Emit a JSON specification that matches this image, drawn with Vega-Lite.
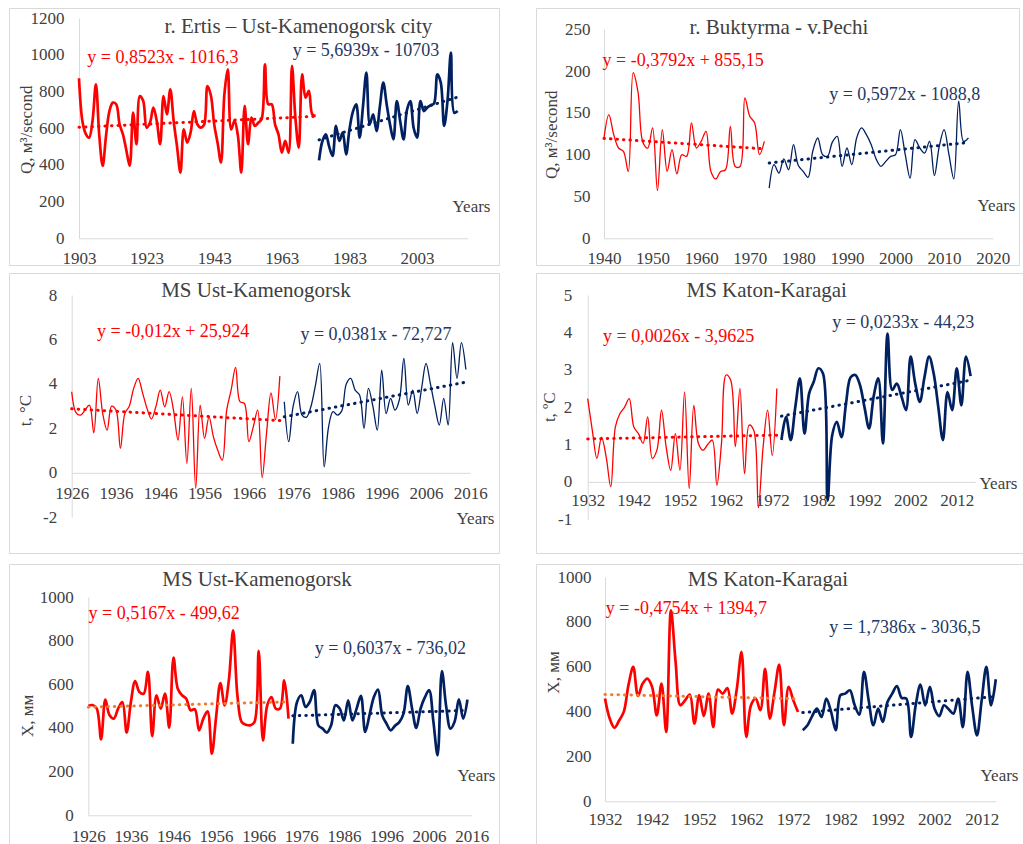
{
  "$schema": "https://vega.github.io/schema/vega-lite/v6.json",
  "padding": {"left": 8, "top": 7, "right": 0, "bottom": 0},
  "background": "white",
  "spacing": 5,
  "config": {
    "view": {"stroke": "#d9d9d9", "strokeWidth": 1},
    "axis": {"grid": false, "ticks": false, "tickSize": 0, "domainColor": "#d9d9d9", "domainWidth": 1,
      "labelFont": "Liberation Serif", "labelFontSize": 17, "labelColor": "#404040", "labelOverlap": false, "labelFlush": false, "labelBound": false,
      "titleFont": "Liberation Serif", "titleFontSize": 17, "titleFontWeight": "normal", "titleColor": "#404040", "titleBaseline": "middle", "titleAlign": "center"},
    "axisX": {"titleAngle": 0},
    "axisY": {"titleAngle": -90},
    "text": {"font": "Liberation Serif"}
  },
  "datasets": {
    "ertis": [
      {"year":1903,"v":873,"period":"early"},{"year":1904,"v":640,"period":"early"},{"year":1905,"v":570,"period":"early"},{"year":1906,"v":549,"period":"early"},{"year":1907,"v":640,"period":"early"},{"year":1908,"v":840,"period":"early"},{"year":1909,"v":560,"period":"early"},{"year":1910,"v":395,"period":"early"},{"year":1911,"v":560,"period":"early"},{"year":1912,"v":694,"period":"early"},{"year":1913,"v":740,"period":"early"},{"year":1914,"v":731,"period":"early"},{"year":1915,"v":622,"period":"early"},{"year":1916,"v":567,"period":"early"},{"year":1917,"v":480,"period":"early"},{"year":1918,"v":395,"period":"early"},{"year":1919,"v":685,"period":"early"},{"year":1920,"v":513,"period":"early"},{"year":1921,"v":776,"period":"early"},{"year":1922,"v":749,"period":"early"},{"year":1923,"v":604,"period":"early"},{"year":1924,"v":631,"period":"early"},{"year":1925,"v":713,"period":"early"},{"year":1926,"v":640,"period":"early"},{"year":1927,"v":513,"period":"early"},{"year":1928,"v":776,"period":"early"},{"year":1929,"v":676,"period":"early"},{"year":1930,"v":813,"period":"early"},{"year":1931,"v":640,"period":"early"},{"year":1932,"v":500,"period":"early"},{"year":1933,"v":358,"period":"early"},{"year":1934,"v":594,"period":"early"},{"year":1935,"v":522,"period":"early"},{"year":1936,"v":576,"period":"early"},{"year":1937,"v":694,"period":"early"},{"year":1938,"v":622,"period":"early"},{"year":1939,"v":604,"period":"early"},{"year":1940,"v":620,"period":"early"},{"year":1941,"v":830,"period":"early"},{"year":1942,"v":780,"period":"early"},{"year":1943,"v":620,"period":"early"},{"year":1944,"v":520,"period":"early"},{"year":1945,"v":413,"period":"early"},{"year":1946,"v":785,"period":"early"},{"year":1947,"v":922,"period":"early"},{"year":1948,"v":594,"period":"early"},{"year":1949,"v":640,"period":"early"},{"year":1950,"v":560,"period":"early"},{"year":1951,"v":358,"period":"early"},{"year":1952,"v":722,"period":"early"},{"year":1953,"v":513,"period":"early"},{"year":1954,"v":658,"period":"early"},{"year":1955,"v":613,"period":"early"},{"year":1956,"v":630,"period":"early"},{"year":1957,"v":649,"period":"early"},{"year":1958,"v":949,"period":"early"},{"year":1959,"v":731,"period":"early"},{"year":1960,"v":731,"period":"early"},{"year":1961,"v":620,"period":"early"},{"year":1962,"v":567,"period":"early"},{"year":1963,"v":467,"period":"early"},{"year":1964,"v":531,"period":"early"},{"year":1965,"v":467,"period":"early"},{"year":1966,"v":940,"period":"early"},{"year":1967,"v":658,"period":"early"},{"year":1968,"v":494,"period":"early"},{"year":1969,"v":894,"period":"early"},{"year":1970,"v":767,"period":"early"},{"year":1971,"v":804,"period":"early"},{"year":1972,"v":676,"period":"early"},{"year":1973,"v":667,"period":"early"},
      {"year":1974,"v":425,"period":"late"},{"year":1975,"v":531,"period":"late"},{"year":1976,"v":567,"period":"late"},{"year":1977,"v":500,"period":"late"},{"year":1978,"v":449,"period":"late"},{"year":1979,"v":613,"period":"late"},{"year":1980,"v":531,"period":"late"},{"year":1981,"v":576,"period":"late"},{"year":1982,"v":458,"period":"late"},{"year":1983,"v":594,"period":"late"},{"year":1984,"v":690,"period":"late"},{"year":1985,"v":731,"period":"late"},{"year":1986,"v":549,"period":"late"},{"year":1987,"v":720,"period":"late"},{"year":1988,"v":904,"period":"late"},{"year":1989,"v":622,"period":"late"},{"year":1990,"v":676,"period":"late"},{"year":1991,"v":585,"period":"late"},{"year":1992,"v":720,"period":"late"},{"year":1993,"v":849,"period":"late"},{"year":1994,"v":731,"period":"late"},{"year":1995,"v":620,"period":"late"},{"year":1996,"v":540,"period":"late"},{"year":1997,"v":749,"period":"late"},{"year":1998,"v":640,"period":"late"},{"year":1999,"v":540,"period":"late"},{"year":2000,"v":700,"period":"late"},{"year":2001,"v":749,"period":"late"},{"year":2002,"v":600,"period":"late"},{"year":2003,"v":549,"period":"late"},{"year":2004,"v":749,"period":"late"},{"year":2005,"v":694,"period":"late"},{"year":2006,"v":713,"period":"late"},{"year":2007,"v":725,"period":"late"},{"year":2008,"v":735,"period":"late"},{"year":2009,"v":894,"period":"late"},{"year":2010,"v":850,"period":"late"},{"year":2011,"v":613,"period":"late"},{"year":2012,"v":750,"period":"late"},{"year":2013,"v":1013,"period":"late"},{"year":2014,"v":685,"period":"late"},{"year":2015,"v":694,"period":"late"}
    ],
    "ertis_trend": [{"year":1903,"v":605.6,"period":"early"},{"year":1973,"v":665.3,"period":"early"},{"year":1974,"v":536.8,"period":"late"},{"year":2015,"v":770.2,"period":"late"}],
    "buktyrma": [
      {"year":1940,"v":120,"period":"early"},{"year":1941,"v":148,"period":"early"},{"year":1942,"v":124,"period":"early"},{"year":1943,"v":108,"period":"early"},{"year":1944,"v":104,"period":"early"},{"year":1945,"v":80,"period":"early"},{"year":1946,"v":198,"period":"early"},{"year":1947,"v":175,"period":"early"},{"year":1948,"v":115,"period":"early"},{"year":1949,"v":108,"period":"early"},{"year":1950,"v":132,"period":"early"},{"year":1951,"v":57,"period":"early"},{"year":1952,"v":130,"period":"early"},{"year":1953,"v":80,"period":"early"},{"year":1954,"v":106,"period":"early"},{"year":1955,"v":77,"period":"early"},{"year":1956,"v":100,"period":"early"},{"year":1957,"v":98,"period":"early"},{"year":1958,"v":138,"period":"early"},{"year":1959,"v":108,"period":"early"},{"year":1960,"v":116,"period":"early"},{"year":1961,"v":128,"period":"early"},{"year":1962,"v":80,"period":"early"},{"year":1963,"v":71,"period":"early"},{"year":1964,"v":80,"period":"early"},{"year":1965,"v":82,"period":"early"},{"year":1966,"v":134,"period":"early"},{"year":1967,"v":86,"period":"early"},{"year":1968,"v":86,"period":"early"},{"year":1969,"v":168,"period":"early"},{"year":1970,"v":146,"period":"early"},{"year":1971,"v":138,"period":"early"},{"year":1972,"v":100,"period":"early"},{"year":1973,"v":116,"period":"early"},
      {"year":1974,"v":60,"period":"late"},{"year":1975,"v":88,"period":"late"},{"year":1976,"v":78,"period":"late"},{"year":1977,"v":95,"period":"late"},{"year":1978,"v":82,"period":"late"},{"year":1979,"v":112,"period":"late"},{"year":1980,"v":87,"period":"late"},{"year":1981,"v":80,"period":"late"},{"year":1982,"v":73,"period":"late"},{"year":1983,"v":105,"period":"late"},{"year":1984,"v":120,"period":"late"},{"year":1985,"v":100,"period":"late"},{"year":1986,"v":98,"period":"late"},{"year":1987,"v":115,"period":"late"},{"year":1988,"v":122,"period":"late"},{"year":1989,"v":86,"period":"late"},{"year":1990,"v":108,"period":"late"},{"year":1991,"v":88,"period":"late"},{"year":1992,"v":120,"period":"late"},{"year":1993,"v":132,"period":"late"},{"year":1994,"v":124,"period":"late"},{"year":1995,"v":112,"period":"late"},{"year":1996,"v":95,"period":"late"},{"year":1997,"v":86,"period":"late"},{"year":1998,"v":92,"period":"late"},{"year":1999,"v":98,"period":"late"},{"year":2000,"v":100,"period":"late"},{"year":2001,"v":130,"period":"late"},{"year":2002,"v":100,"period":"late"},{"year":2003,"v":72,"period":"late"},{"year":2004,"v":118,"period":"late"},{"year":2005,"v":108,"period":"late"},{"year":2006,"v":102,"period":"late"},{"year":2007,"v":116,"period":"late"},{"year":2008,"v":75,"period":"late"},{"year":2009,"v":110,"period":"late"},{"year":2010,"v":130,"period":"late"},{"year":2011,"v":100,"period":"late"},{"year":2012,"v":71,"period":"late"},{"year":2013,"v":164,"period":"late"},{"year":2014,"v":116,"period":"late"},{"year":2015,"v":120,"period":"late"}
    ],
    "buktyrma_trend": [{"year":1940,"v":119.5,"period":"early"},{"year":1973,"v":107.0,"period":"early"},{"year":1974,"v":90.1,"period":"late"},{"year":2015,"v":114.6,"period":"late"}],
    "ust_t": [
      {"year":1926,"v":3.65,"period":"early"},{"year":1927,"v":2.7,"period":"early"},{"year":1928,"v":2.6,"period":"early"},{"year":1929,"v":2.82,"period":"early"},{"year":1930,"v":3.05,"period":"early"},{"year":1931,"v":1.8,"period":"early"},{"year":1932,"v":4.25,"period":"early"},{"year":1933,"v":2.67,"period":"early"},{"year":1934,"v":1.92,"period":"early"},{"year":1935,"v":3.0,"period":"early"},{"year":1936,"v":2.82,"period":"early"},{"year":1937,"v":1.1,"period":"early"},{"year":1938,"v":2.67,"period":"early"},{"year":1939,"v":3.0,"period":"early"},{"year":1940,"v":3.8,"period":"early"},{"year":1941,"v":4.25,"period":"early"},{"year":1942,"v":3.6,"period":"early"},{"year":1943,"v":2.9,"period":"early"},{"year":1944,"v":2.42,"period":"early"},{"year":1945,"v":2.97,"period":"early"},{"year":1946,"v":3.72,"period":"early"},{"year":1947,"v":2.97,"period":"early"},{"year":1948,"v":3.65,"period":"early"},{"year":1949,"v":2.8,"period":"early"},{"year":1950,"v":1.47,"period":"early"},{"year":1951,"v":3.42,"period":"early"},{"year":1952,"v":0.42,"period":"early"},{"year":1953,"v":3.8,"period":"early"},{"year":1954,"v":-0.7,"period":"early"},{"year":1955,"v":3.05,"period":"early"},{"year":1956,"v":1.55,"period":"early"},{"year":1957,"v":2.52,"period":"early"},{"year":1958,"v":1.62,"period":"early"},{"year":1959,"v":1.0,"period":"early"},{"year":1960,"v":0.57,"period":"early"},{"year":1961,"v":2.82,"period":"early"},{"year":1962,"v":3.72,"period":"early"},{"year":1963,"v":4.74,"period":"early"},{"year":1964,"v":3.2,"period":"early"},{"year":1965,"v":3.12,"period":"early"},{"year":1966,"v":1.4,"period":"early"},{"year":1967,"v":2.07,"period":"early"},{"year":1968,"v":2.82,"period":"early"},{"year":1969,"v":-0.21,"period":"early"},{"year":1970,"v":1.8,"period":"early"},{"year":1971,"v":3.6,"period":"early"},{"year":1972,"v":2.4,"period":"early"},{"year":1973,"v":4.35,"period":"early"},
      {"year":1974,"v":3.2,"period":"late"},{"year":1975,"v":1.4,"period":"late"},{"year":1976,"v":3.0,"period":"late"},{"year":1977,"v":3.65,"period":"late"},{"year":1978,"v":2.6,"period":"late"},{"year":1979,"v":2.5,"period":"late"},{"year":1980,"v":2.97,"period":"late"},{"year":1981,"v":3.9,"period":"late"},{"year":1982,"v":4.92,"period":"late"},{"year":1983,"v":0.27,"period":"late"},{"year":1984,"v":2.07,"period":"late"},{"year":1985,"v":2.75,"period":"late"},{"year":1986,"v":2.6,"period":"late"},{"year":1987,"v":2.8,"period":"late"},{"year":1988,"v":4.0,"period":"late"},{"year":1989,"v":4.25,"period":"late"},{"year":1990,"v":3.72,"period":"late"},{"year":1991,"v":3.5,"period":"late"},{"year":1992,"v":2.0,"period":"late"},{"year":1993,"v":3.8,"period":"late"},{"year":1994,"v":3.0,"period":"late"},{"year":1995,"v":1.92,"period":"late"},{"year":1996,"v":4.62,"period":"late"},{"year":1997,"v":2.67,"period":"late"},{"year":1998,"v":3.35,"period":"late"},{"year":1999,"v":2.82,"period":"late"},{"year":2000,"v":3.3,"period":"late"},{"year":2001,"v":5.15,"period":"late"},{"year":2002,"v":3.05,"period":"late"},{"year":2003,"v":3.72,"period":"late"},{"year":2004,"v":2.67,"period":"late"},{"year":2005,"v":3.8,"period":"late"},{"year":2006,"v":4.92,"period":"late"},{"year":2007,"v":4.0,"period":"late"},{"year":2008,"v":3.0,"period":"late"},{"year":2009,"v":2.15,"period":"late"},{"year":2010,"v":3.35,"period":"late"},{"year":2011,"v":2.15,"period":"late"},{"year":2012,"v":5.86,"period":"late"},{"year":2013,"v":4.25,"period":"late"},{"year":2014,"v":5.86,"period":"late"},{"year":2015,"v":4.65,"period":"late"}
    ],
    "ust_t_trend": [{"year":1926,"v":2.88,"period":"early"},{"year":1973,"v":2.35,"period":"early"},{"year":1974,"v":2.52,"period":"late"},{"year":2015,"v":4.08,"period":"late"}],
    "katon_t": [
      {"year":1932,"v":2.23,"period":"early"},{"year":1933,"v":1.38,"period":"early"},{"year":1934,"v":0.63,"period":"early"},{"year":1935,"v":1.2,"period":"early"},{"year":1936,"v":0.67,"period":"early"},{"year":1937,"v":-0.13,"period":"early"},{"year":1938,"v":1.47,"period":"early"},{"year":1939,"v":1.83,"period":"early"},{"year":1940,"v":2.0,"period":"early"},{"year":1941,"v":2.23,"period":"early"},{"year":1942,"v":1.47,"period":"early"},{"year":1943,"v":1.29,"period":"early"},{"year":1944,"v":1.03,"period":"early"},{"year":1945,"v":1.74,"period":"early"},{"year":1946,"v":0.63,"period":"early"},{"year":1947,"v":0.85,"period":"early"},{"year":1948,"v":1.92,"period":"early"},{"year":1949,"v":0.94,"period":"early"},{"year":1950,"v":0.31,"period":"early"},{"year":1951,"v":1.29,"period":"early"},{"year":1952,"v":0.31,"period":"early"},{"year":1953,"v":2.41,"period":"early"},{"year":1954,"v":-0.18,"period":"early"},{"year":1955,"v":2.05,"period":"early"},{"year":1956,"v":1.03,"period":"early"},{"year":1957,"v":0.85,"period":"early"},{"year":1958,"v":1.0,"period":"early"},{"year":1959,"v":1.12,"period":"early"},{"year":1960,"v":-0.09,"period":"early"},{"year":1961,"v":1.03,"period":"early"},{"year":1962,"v":2.86,"period":"early"},{"year":1963,"v":2.72,"period":"early"},{"year":1964,"v":0.94,"period":"early"},{"year":1965,"v":2.5,"period":"early"},{"year":1966,"v":0.22,"period":"early"},{"year":1967,"v":1.52,"period":"early"},{"year":1968,"v":1.38,"period":"early"},{"year":1969,"v":-0.69,"period":"early"},{"year":1970,"v":0.9,"period":"early"},{"year":1971,"v":1.92,"period":"early"},{"year":1972,"v":0.71,"period":"early"},{"year":1973,"v":2.5,"period":"early"},
      {"year":1974,"v":1.12,"period":"late"},{"year":1975,"v":1.74,"period":"late"},{"year":1976,"v":1.12,"period":"late"},{"year":1977,"v":2.0,"period":"late"},{"year":1978,"v":2.77,"period":"late"},{"year":1979,"v":1.29,"period":"late"},{"year":1980,"v":2.37,"period":"late"},{"year":1981,"v":2.68,"period":"late"},{"year":1982,"v":3.04,"period":"late"},{"year":1983,"v":2.9,"period":"late"},{"year":1984,"v":-0.5,"period":"late"},{"year":1985,"v":1.25,"period":"late"},{"year":1986,"v":1.61,"period":"late"},{"year":1987,"v":1.2,"period":"late"},{"year":1988,"v":2.1,"period":"late"},{"year":1989,"v":2.8,"period":"late"},{"year":1990,"v":2.86,"period":"late"},{"year":1991,"v":2.6,"period":"late"},{"year":1992,"v":2.0,"period":"late"},{"year":1993,"v":1.43,"period":"late"},{"year":1994,"v":2.3,"period":"late"},{"year":1995,"v":2.77,"period":"late"},{"year":1996,"v":1.03,"period":"late"},{"year":1997,"v":3.97,"period":"late"},{"year":1998,"v":2.46,"period":"late"},{"year":1999,"v":2.63,"period":"late"},{"year":2000,"v":2.3,"period":"late"},{"year":2001,"v":1.92,"period":"late"},{"year":2002,"v":3.35,"period":"late"},{"year":2003,"v":2.63,"period":"late"},{"year":2004,"v":2.14,"period":"late"},{"year":2005,"v":2.8,"period":"late"},{"year":2006,"v":3.35,"period":"late"},{"year":2007,"v":2.9,"period":"late"},{"year":2008,"v":2.0,"period":"late"},{"year":2009,"v":1.12,"period":"late"},{"year":2010,"v":2.4,"period":"late"},{"year":2011,"v":1.92,"period":"late"},{"year":2012,"v":3.04,"period":"late"},{"year":2013,"v":2.05,"period":"late"},{"year":2014,"v":3.35,"period":"late"},{"year":2015,"v":2.83,"period":"late"}
    ],
    "katon_t_trend": [{"year":1932,"v":1.15,"period":"early"},{"year":1973,"v":1.25,"period":"early"},{"year":1974,"v":1.76,"period":"late"},{"year":2015,"v":2.72,"period":"late"}],
    "ust_x": [
      {"year":1926,"v":501,"period":"early"},{"year":1927,"v":505,"period":"early"},{"year":1928,"v":489,"period":"early"},{"year":1929,"v":348,"period":"early"},{"year":1930,"v":530,"period":"early"},{"year":1931,"v":458,"period":"early"},{"year":1932,"v":443,"period":"early"},{"year":1933,"v":489,"period":"early"},{"year":1934,"v":519,"period":"early"},{"year":1935,"v":379,"period":"early"},{"year":1936,"v":519,"period":"early"},{"year":1937,"v":615,"period":"early"},{"year":1938,"v":565,"period":"early"},{"year":1939,"v":557,"period":"early"},{"year":1940,"v":657,"period":"early"},{"year":1941,"v":363,"period":"early"},{"year":1942,"v":550,"period":"early"},{"year":1943,"v":489,"period":"early"},{"year":1944,"v":557,"period":"early"},{"year":1945,"v":401,"period":"early"},{"year":1946,"v":722,"period":"early"},{"year":1947,"v":580,"period":"early"},{"year":1948,"v":550,"period":"early"},{"year":1949,"v":534,"period":"early"},{"year":1950,"v":481,"period":"early"},{"year":1951,"v":486,"period":"early"},{"year":1952,"v":389,"period":"early"},{"year":1953,"v":443,"period":"early"},{"year":1954,"v":476,"period":"early"},{"year":1955,"v":282,"period":"early"},{"year":1956,"v":450,"period":"early"},{"year":1957,"v":606,"period":"early"},{"year":1958,"v":504,"period":"early"},{"year":1959,"v":620,"period":"early"},{"year":1960,"v":847,"period":"early"},{"year":1961,"v":550,"period":"early"},{"year":1962,"v":427,"period":"early"},{"year":1963,"v":415,"period":"early"},{"year":1964,"v":412,"period":"early"},{"year":1965,"v":427,"period":"early"},{"year":1966,"v":753,"period":"early"},{"year":1967,"v":343,"period":"early"},{"year":1968,"v":504,"period":"early"},{"year":1969,"v":542,"period":"early"},{"year":1970,"v":489,"period":"early"},{"year":1971,"v":489,"period":"early"},{"year":1972,"v":618,"period":"early"},{"year":1973,"v":443,"period":"early"},
      {"year":1974,"v":328,"period":"late"},{"year":1975,"v":519,"period":"late"},{"year":1976,"v":550,"period":"late"},{"year":1977,"v":496,"period":"late"},{"year":1978,"v":520,"period":"late"},{"year":1979,"v":573,"period":"late"},{"year":1980,"v":412,"period":"late"},{"year":1981,"v":397,"period":"late"},{"year":1982,"v":379,"period":"late"},{"year":1983,"v":412,"period":"late"},{"year":1984,"v":504,"period":"late"},{"year":1985,"v":489,"period":"late"},{"year":1986,"v":435,"period":"late"},{"year":1987,"v":527,"period":"late"},{"year":1988,"v":435,"period":"late"},{"year":1989,"v":490,"period":"late"},{"year":1990,"v":547,"period":"late"},{"year":1991,"v":382,"period":"late"},{"year":1992,"v":458,"period":"late"},{"year":1993,"v":540,"period":"late"},{"year":1994,"v":576,"period":"late"},{"year":1995,"v":458,"period":"late"},{"year":1996,"v":420,"period":"late"},{"year":1997,"v":389,"period":"late"},{"year":1998,"v":410,"period":"late"},{"year":1999,"v":427,"period":"late"},{"year":2000,"v":466,"period":"late"},{"year":2001,"v":592,"period":"late"},{"year":2002,"v":489,"period":"late"},{"year":2003,"v":400,"period":"late"},{"year":2004,"v":489,"period":"late"},{"year":2005,"v":540,"period":"late"},{"year":2006,"v":573,"period":"late"},{"year":2007,"v":430,"period":"late"},{"year":2008,"v":275,"period":"late"},{"year":2009,"v":661,"period":"late"},{"year":2010,"v":500,"period":"late"},{"year":2011,"v":397,"period":"late"},{"year":2012,"v":430,"period":"late"},{"year":2013,"v":531,"period":"late"},{"year":2014,"v":443,"period":"late"},{"year":2015,"v":530,"period":"late"}
    ],
    "ust_x_trend": [{"year":1926,"v":495.5,"period":"early"},{"year":1973,"v":519.8,"period":"early"},{"year":1974,"v":455.7,"period":"late"},{"year":2015,"v":480.4,"period":"late"}],
    "katon_x": [
      {"year":1932,"v":458,"period":"early"},{"year":1933,"v":369,"period":"early"},{"year":1934,"v":328,"period":"early"},{"year":1935,"v":360,"period":"early"},{"year":1936,"v":400,"period":"early"},{"year":1937,"v":520,"period":"early"},{"year":1938,"v":599,"period":"early"},{"year":1939,"v":470,"period":"early"},{"year":1940,"v":525,"period":"early"},{"year":1941,"v":547,"period":"early"},{"year":1942,"v":510,"period":"early"},{"year":1943,"v":383,"period":"early"},{"year":1944,"v":525,"period":"early"},{"year":1945,"v":309,"period":"early"},{"year":1946,"v":851,"period":"early"},{"year":1947,"v":620,"period":"early"},{"year":1948,"v":428,"period":"early"},{"year":1949,"v":450,"period":"early"},{"year":1950,"v":476,"period":"early"},{"year":1951,"v":346,"period":"early"},{"year":1952,"v":473,"period":"early"},{"year":1953,"v":380,"period":"early"},{"year":1954,"v":480,"period":"early"},{"year":1955,"v":331,"period":"early"},{"year":1956,"v":498,"period":"early"},{"year":1957,"v":480,"period":"early"},{"year":1958,"v":505,"period":"early"},{"year":1959,"v":391,"period":"early"},{"year":1960,"v":502,"period":"early"},{"year":1961,"v":666,"period":"early"},{"year":1962,"v":287,"period":"early"},{"year":1963,"v":428,"period":"early"},{"year":1964,"v":458,"period":"early"},{"year":1965,"v":406,"period":"early"},{"year":1966,"v":591,"period":"early"},{"year":1967,"v":369,"period":"early"},{"year":1968,"v":487,"period":"early"},{"year":1969,"v":610,"period":"early"},{"year":1970,"v":339,"period":"early"},{"year":1971,"v":510,"period":"early"},{"year":1972,"v":450,"period":"early"},{"year":1973,"v":398,"period":"early"},
      {"year":1974,"v":317,"period":"late"},{"year":1975,"v":339,"period":"late"},{"year":1976,"v":380,"period":"late"},{"year":1977,"v":413,"period":"late"},{"year":1978,"v":376,"period":"late"},{"year":1979,"v":458,"period":"late"},{"year":1980,"v":400,"period":"late"},{"year":1981,"v":317,"period":"late"},{"year":1982,"v":473,"period":"late"},{"year":1983,"v":480,"period":"late"},{"year":1984,"v":495,"period":"late"},{"year":1985,"v":430,"period":"late"},{"year":1986,"v":386,"period":"late"},{"year":1987,"v":577,"period":"late"},{"year":1988,"v":450,"period":"late"},{"year":1989,"v":339,"period":"late"},{"year":1990,"v":413,"period":"late"},{"year":1991,"v":354,"period":"late"},{"year":1992,"v":443,"period":"late"},{"year":1993,"v":480,"period":"late"},{"year":1994,"v":514,"period":"late"},{"year":1995,"v":461,"period":"late"},{"year":1996,"v":458,"period":"late"},{"year":1997,"v":287,"period":"late"},{"year":1998,"v":430,"period":"late"},{"year":1999,"v":520,"period":"late"},{"year":2000,"v":428,"period":"late"},{"year":2001,"v":510,"period":"late"},{"year":2002,"v":413,"period":"late"},{"year":2003,"v":380,"period":"late"},{"year":2004,"v":428,"period":"late"},{"year":2005,"v":410,"period":"late"},{"year":2006,"v":391,"period":"late"},{"year":2007,"v":458,"period":"late"},{"year":2008,"v":331,"period":"late"},{"year":2009,"v":577,"period":"late"},{"year":2010,"v":420,"period":"late"},{"year":2011,"v":294,"period":"late"},{"year":2012,"v":450,"period":"late"},{"year":2013,"v":599,"period":"late"},{"year":2014,"v":428,"period":"late"},{"year":2015,"v":544,"period":"late"}
    ],
    "katon_x_trend": [{"year":1932,"v":476.2,"period":"early"},{"year":1973,"v":456.7,"period":"early"},{"year":1974,"v":395.5,"period":"late"},{"year":2015,"v":466.8,"period":"late"}]
  },
  "vconcat": [
    {
      "hconcat": [
        {
          "width": 490, "height": 257,
          "resolve": {"scale": {"color": "independent"}},
          "layer": [
            {"data": {"name": "ertis"}, "transform": [{"filter": "datum.period == 'early'"}],
             "mark": {"type": "line", "interpolate": "catmull-rom", "strokeWidth": 2.7},
             "encoding": {
               "x": {"field": "year", "type": "quantitative", "scale": {"domain": [1903, 2018], "range": [70, 458.8], "nice": false, "zero": false},
                     "axis": {"values": [1903, 1923, 1943, 1963, 1983, 2003], "format": "d", "offset": -26.7, "labelPadding": 12, "title": "Years", "titleX": 462, "titleY": -32.3}},
               "y": {"field": "v", "type": "quantitative", "scale": {"domain": [0, 1200], "range": [230.3, 10.3], "nice": false, "zero": false},
                     "axis": {"values": [0, 200, 400, 600, 800, 1000, 1200], "format": "d", "offset": -70, "labelPadding": 15, "title": "Q, м³/second", "titleX": -53, "titleY": 121.3}},
               "color": {"field": "period", "type": "nominal", "scale": {"domain": ["early", "late"], "range": ["#FF0000", "#002060"]}, "legend": null}
             }},
            {"data": {"name": "ertis"}, "transform": [{"filter": "datum.period == 'late'"}],
             "mark": {"type": "line", "interpolate": "catmull-rom", "strokeWidth": 2.7},
             "encoding": {
               "x": {"field": "year", "type": "quantitative"},
               "y": {"field": "v", "type": "quantitative"},
               "color": {"field": "period", "type": "nominal", "scale": {"domain": ["early", "late"], "range": ["#FF0000", "#002060"]}, "legend": null}
             }},
            {"data": {"name": "ertis_trend"},
             "mark": {"type": "line", "strokeWidth": 3, "strokeDash": [0.5, 6], "strokeCap": "round"},
             "encoding": {
               "x": {"field": "year", "type": "quantitative"},
               "y": {"field": "v", "type": "quantitative"},
               "color": {"field": "period", "type": "nominal", "scale": {"domain": ["early", "late"], "range": ["#FF0000", "#002060"]}, "legend": null}
             }},
            {"data": {"values": [{}]}, "mark": {"type": "text", "text": "r. Ertis – Ust-Kamenogorsk city", "fontSize": 21, "color": "#404040", "align": "center", "baseline": "middle"},
             "encoding": {"x": {"datum": 1967.9, "type": "quantitative"}, "y": {"datum": 1150, "type": "quantitative"}}},
            {"data": {"values": [{}]}, "mark": {"type": "text", "text": "y = 0,8523x - 1016,3", "fontSize": 18, "color": "#FF0000", "align": "center", "baseline": "middle"},
             "encoding": {"x": {"datum": 1927.8, "type": "quantitative"}, "y": {"datum": 985, "type": "quantitative"}}},
            {"data": {"values": [{}]}, "mark": {"type": "text", "text": "y = 5,6939x - 10703", "fontSize": 18, "color": "#1F3864", "align": "center", "baseline": "middle"},
             "encoding": {"x": {"datum": 1987.9, "type": "quantitative"}, "y": {"datum": 1022, "type": "quantitative"}}}
          ]
        },
        {
          "width": 483, "height": 257,
          "resolve": {"scale": {"color": "independent"}},
          "layer": [
            {"data": {"name": "buktyrma"}, "transform": [{"filter": "datum.period == 'early'"}],
             "mark": {"type": "line", "interpolate": "catmull-rom", "strokeWidth": 1.3},
             "encoding": {
               "x": {"field": "year", "type": "quantitative", "scale": {"domain": [1940, 2020], "range": [68, 456.7], "nice": false, "zero": false},
                     "axis": {"values": [1940, 1950, 1960, 1970, 1980, 1990, 2000, 2010, 2020], "format": "d", "offset": -26.7, "labelPadding": 12, "title": "Years", "titleX": 460, "titleY": -33.3}},
               "y": {"field": "v", "type": "quantitative", "scale": {"domain": [0, 250], "range": [230.3, 21.3], "nice": false, "zero": false},
                     "axis": {"values": [0, 50, 100, 150, 200, 250], "format": "d", "offset": -68, "labelPadding": 14, "title": "Q, м³/second", "titleX": -52.3, "titleY": 126.3}},
               "color": {"field": "period", "type": "nominal", "scale": {"domain": ["early", "late"], "range": ["#FF0000", "#002060"]}, "legend": null}
             }},
            {"data": {"name": "buktyrma"}, "transform": [{"filter": "datum.period == 'late'"}],
             "mark": {"type": "line", "interpolate": "catmull-rom", "strokeWidth": 1.3},
             "encoding": {
               "x": {"field": "year", "type": "quantitative"},
               "y": {"field": "v", "type": "quantitative"},
               "color": {"field": "period", "type": "nominal", "scale": {"domain": ["early", "late"], "range": ["#FF0000", "#002060"]}, "legend": null}
             }},
            {"data": {"name": "buktyrma_trend"},
             "mark": {"type": "line", "strokeWidth": 3, "strokeDash": [0.5, 6], "strokeCap": "round"},
             "encoding": {
               "x": {"field": "year", "type": "quantitative"},
               "y": {"field": "v", "type": "quantitative"},
               "color": {"field": "period", "type": "nominal", "scale": {"domain": ["early", "late"], "range": ["#FF0000", "#002060"]}, "legend": null}
             }},
            {"data": {"values": [{}]}, "mark": {"type": "text", "text": "r. Buktyrma - v.Pechi", "fontSize": 21, "color": "#404040", "align": "center", "baseline": "middle"},
             "encoding": {"x": {"datum": 1976, "type": "quantitative"}, "y": {"datum": 252, "type": "quantitative"}}},
            {"data": {"values": [{}]}, "mark": {"type": "text", "text": "y = -0,3792x + 855,15", "fontSize": 18, "color": "#FF0000", "align": "center", "baseline": "middle"},
             "encoding": {"x": {"datum": 1956.3, "type": "quantitative"}, "y": {"datum": 212, "type": "quantitative"}}},
            {"data": {"values": [{}]}, "mark": {"type": "text", "text": "y = 0,5972x - 1088,8", "fontSize": 18, "color": "#1F3864", "align": "center", "baseline": "middle"},
             "encoding": {"x": {"datum": 2001.9, "type": "quantitative"}, "y": {"datum": 171, "type": "quantitative"}}}
          ]
        }
      ],
      "spacing": 37, "bounds": "flush"
    },
    {
      "spacing": 9,
      "vconcat": [
        {
          "hconcat": [
            {
              "width": 490, "height": 280,
              "resolve": {"scale": {"color": "independent"}},
              "layer": [
                {"data": {"name": "ust_t"}, "transform": [{"filter": "datum.period == 'early'"}],
                 "mark": {"type": "line", "interpolate": "catmull-rom", "strokeWidth": 1.3},
                 "encoding": {
                   "x": {"field": "year", "type": "quantitative", "scale": {"domain": [1926, 2016], "range": [62.7, 461.3], "nice": false, "zero": false},
                         "axis": {"values": [1926, 1936, 1946, 1956, 1966, 1976, 1986, 1996, 2006, 2016], "format": "d", "offset": -80.2, "labelPadding": 13, "title": "Years", "titleX": 466, "titleY": 45.3}},
                   "y": {"field": "v", "type": "quantitative", "scale": {"domain": [-2, 8], "range": [244.3, 22], "nice": false, "zero": false},
                         "axis": {"values": [-2, 0, 2, 4, 6, 8], "labelExpr": "datum.value < 0 ? '-' + abs(datum.value) : '' + datum.value", "offset": -62.7, "labelPadding": 15, "title": "t, °C", "titleX": -45.7, "titleY": 137}},
                   "color": {"field": "period", "type": "nominal", "scale": {"domain": ["early", "late"], "range": ["#FF0000", "#002060"]}, "legend": null}
                 }},
                {"data": {"name": "ust_t"}, "transform": [{"filter": "datum.period == 'late'"}],
                 "mark": {"type": "line", "interpolate": "catmull-rom", "strokeWidth": 1.3},
                 "encoding": {
                   "x": {"field": "year", "type": "quantitative"},
                   "y": {"field": "v", "type": "quantitative"},
                   "color": {"field": "period", "type": "nominal", "scale": {"domain": ["early", "late"], "range": ["#FF0000", "#002060"]}, "legend": null}
                 }},
                {"data": {"name": "ust_t_trend"},
                 "mark": {"type": "line", "strokeWidth": 3, "strokeDash": [0.5, 6], "strokeCap": "round"},
                 "encoding": {
                   "x": {"field": "year", "type": "quantitative"},
                   "y": {"field": "v", "type": "quantitative"},
                   "color": {"field": "period", "type": "nominal", "scale": {"domain": ["early", "late"], "range": ["#FF0000", "#002060"]}, "legend": null}
                 }},
                {"data": {"values": [{}]}, "mark": {"type": "text", "text": "MS Ust-Kamenogorsk", "fontSize": 21, "color": "#404040", "align": "center", "baseline": "middle"},
                 "encoding": {"x": {"datum": 1967.6, "type": "quantitative"}, "y": {"datum": 8.2, "type": "quantitative"}}},
                {"data": {"values": [{}]}, "mark": {"type": "text", "text": "y = -0,012x + 25,924", "fontSize": 18, "color": "#FF0000", "align": "center", "baseline": "middle"},
                 "encoding": {"x": {"datum": 1948.9, "type": "quantitative"}, "y": {"datum": 6.35, "type": "quantitative"}}},
                {"data": {"values": [{}]}, "mark": {"type": "text", "text": "y = 0,0381x - 72,727", "fontSize": 18, "color": "#1F3864", "align": "center", "baseline": "middle"},
                 "encoding": {"x": {"datum": 1994.7, "type": "quantitative"}, "y": {"datum": 6.2, "type": "quantitative"}}}
              ]
            },
            {
              "width": 487, "height": 280,
              "resolve": {"scale": {"color": "independent"}},
              "layer": [
                {"data": {"name": "katon_t"}, "transform": [{"filter": "datum.period == 'early'"}],
                 "mark": {"type": "line", "interpolate": "catmull-rom", "strokeWidth": 1.3},
                 "encoding": {
                   "x": {"field": "year", "type": "quantitative", "scale": {"domain": [1932, 2016], "range": [51.7, 439.2], "nice": false, "zero": false},
                         "axis": {"values": [1932, 1942, 1952, 1962, 1972, 1982, 1992, 2002, 2012], "format": "d", "offset": -71.1, "labelPadding": 11, "title": "Years", "titleX": 462, "titleY": 1.3}},
                   "y": {"field": "v", "type": "quantitative", "scale": {"domain": [-1, 5], "range": [246.3, 22], "nice": false, "zero": false},
                         "axis": {"values": [-1, 0, 1, 2, 3, 4, 5], "labelExpr": "datum.value < 0 ? '-' + abs(datum.value) : '' + datum.value", "offset": -51.7, "labelPadding": 16, "title": "t, ºC", "titleX": -38.4, "titleY": 133.7}},
                   "color": {"field": "period", "type": "nominal", "scale": {"domain": ["early", "late"], "range": ["#FF0000", "#002060"]}, "legend": null}
                 }},
                {"data": {"name": "katon_t"}, "transform": [{"filter": "datum.period == 'late'"}],
                 "mark": {"type": "line", "interpolate": "catmull-rom", "strokeWidth": 2.7},
                 "encoding": {
                   "x": {"field": "year", "type": "quantitative"},
                   "y": {"field": "v", "type": "quantitative"},
                   "color": {"field": "period", "type": "nominal", "scale": {"domain": ["early", "late"], "range": ["#FF0000", "#002060"]}, "legend": null}
                 }},
                {"data": {"name": "katon_t_trend"},
                 "mark": {"type": "line", "strokeWidth": 3, "strokeDash": [0.5, 6], "strokeCap": "round"},
                 "encoding": {
                   "x": {"field": "year", "type": "quantitative"},
                   "y": {"field": "v", "type": "quantitative"},
                   "color": {"field": "period", "type": "nominal", "scale": {"domain": ["early", "late"], "range": ["#FF0000", "#002060"]}, "legend": null}
                 }},
                {"data": {"values": [{}]}, "mark": {"type": "text", "text": "MS Katon-Karagai", "fontSize": 21, "color": "#404040", "align": "center", "baseline": "middle"},
                 "encoding": {"x": {"datum": 1970.8, "type": "quantitative"}, "y": {"datum": 5.11, "type": "quantitative"}}},
                {"data": {"values": [{}]}, "mark": {"type": "text", "text": "y = 0,0026x - 3,9625", "fontSize": 18, "color": "#FF0000", "align": "center", "baseline": "middle"},
                 "encoding": {"x": {"datum": 1951.7, "type": "quantitative"}, "y": {"datum": 3.88, "type": "quantitative"}}},
                {"data": {"values": [{}]}, "mark": {"type": "text", "text": "y = 0,0233x - 44,23", "fontSize": 18, "color": "#1F3864", "align": "center", "baseline": "middle"},
                 "encoding": {"x": {"datum": 2000.4, "type": "quantitative"}, "y": {"datum": 4.25, "type": "quantitative"}}}
              ]
            }
          ],
          "spacing": 37, "bounds": "flush"
        },
        {
          "hconcat": [
            {
              "width": 490, "height": 280,
              "resolve": {"scale": {"color": "independent"}},
              "layer": [
                {"data": {"name": "ust_x"}, "transform": [{"filter": "datum.period == 'early'"}],
                 "mark": {"type": "line", "interpolate": "catmull-rom", "strokeWidth": 2.7},
                 "encoding": {
                   "x": {"field": "year", "type": "quantitative", "scale": {"domain": [1926, 2016], "range": [79.3, 462.7], "nice": false, "zero": false},
                         "axis": {"values": [1926, 1936, 1946, 1956, 1966, 1976, 1986, 1996, 2006, 2016], "format": "d", "offset": -28.7, "labelPadding": 13, "title": "Years", "titleX": 467, "titleY": -40.3}},
                   "y": {"field": "v", "type": "quantitative", "scale": {"domain": [0, 1000], "range": [251.3, 33], "nice": false, "zero": false},
                         "axis": {"values": [0, 200, 400, 600, 800, 1000], "format": "d", "offset": -79.3, "labelPadding": 15, "title": "X, мм", "titleX": -60.6, "titleY": 151.3}},
                   "color": {"field": "period", "type": "nominal", "scale": {"domain": ["early", "late"], "range": ["#FF0000", "#002060"]}, "legend": null}
                 }},
                {"data": {"name": "ust_x"}, "transform": [{"filter": "datum.period == 'late'"}],
                 "mark": {"type": "line", "interpolate": "catmull-rom", "strokeWidth": 2.7},
                 "encoding": {
                   "x": {"field": "year", "type": "quantitative"},
                   "y": {"field": "v", "type": "quantitative"},
                   "color": {"field": "period", "type": "nominal", "scale": {"domain": ["early", "late"], "range": ["#FF0000", "#002060"]}, "legend": null}
                 }},
                {"data": {"name": "ust_x_trend"},
                 "mark": {"type": "line", "strokeWidth": 3, "strokeDash": [0.5, 6], "strokeCap": "round"},
                 "encoding": {
                   "x": {"field": "year", "type": "quantitative"},
                   "y": {"field": "v", "type": "quantitative"},
                   "color": {"field": "period", "type": "nominal", "scale": {"domain": ["early", "late"], "range": ["#ED7D31", "#002060"]}, "legend": null}
                 }},
                {"data": {"values": [{}]}, "mark": {"type": "text", "text": "MS Ust-Kamenogorsk", "fontSize": 21, "color": "#404040", "align": "center", "baseline": "middle"},
                 "encoding": {"x": {"datum": 1965.6, "type": "quantitative"}, "y": {"datum": 1076, "type": "quantitative"}}},
                {"data": {"values": [{}]}, "mark": {"type": "text", "text": "y = 0,5167x - 499,62", "fontSize": 18, "color": "#FF0000", "align": "center", "baseline": "middle"},
                 "encoding": {"x": {"datum": 1943.8, "type": "quantitative"}, "y": {"datum": 923, "type": "quantitative"}}},
                {"data": {"values": [{}]}, "mark": {"type": "text", "text": "y = 0,6037x - 736,02", "fontSize": 18, "color": "#1F3864", "align": "center", "baseline": "middle"},
                 "encoding": {"x": {"datum": 1996.9, "type": "quantitative"}, "y": {"datum": 760, "type": "quantitative"}}}
              ]
            },
            {
              "width": 487, "height": 280,
              "resolve": {"scale": {"color": "independent"}},
              "layer": [
                {"data": {"name": "katon_x"}, "transform": [{"filter": "datum.period == 'early'"}],
                 "mark": {"type": "line", "interpolate": "catmull-rom", "strokeWidth": 2.7},
                 "encoding": {
                   "x": {"field": "year", "type": "quantitative", "scale": {"domain": [1932, 2015], "range": [69, 459.8], "nice": false, "zero": false},
                         "axis": {"values": [1932, 1942, 1952, 1962, 1972, 1982, 1992, 2002, 2012], "format": "d", "offset": -42.7, "labelPadding": 10, "title": "Years", "titleX": 463, "titleY": -26.3}},
                   "y": {"field": "v", "type": "quantitative", "scale": {"domain": [0, 1000], "range": [237.3, 13], "nice": false, "zero": false},
                         "axis": {"values": [0, 200, 400, 600, 800, 1000], "format": "d", "offset": -69, "labelPadding": 14, "title": "X, мм", "titleX": -51.3, "titleY": 108}},
                   "color": {"field": "period", "type": "nominal", "scale": {"domain": ["early", "late"], "range": ["#FF0000", "#002060"]}, "legend": null}
                 }},
                {"data": {"name": "katon_x"}, "transform": [{"filter": "datum.period == 'late'"}],
                 "mark": {"type": "line", "interpolate": "catmull-rom", "strokeWidth": 2.7},
                 "encoding": {
                   "x": {"field": "year", "type": "quantitative"},
                   "y": {"field": "v", "type": "quantitative"},
                   "color": {"field": "period", "type": "nominal", "scale": {"domain": ["early", "late"], "range": ["#FF0000", "#002060"]}, "legend": null}
                 }},
                {"data": {"name": "katon_x_trend"},
                 "mark": {"type": "line", "strokeWidth": 3, "strokeDash": [0.5, 6], "strokeCap": "round"},
                 "encoding": {
                   "x": {"field": "year", "type": "quantitative"},
                   "y": {"field": "v", "type": "quantitative"},
                   "color": {"field": "period", "type": "nominal", "scale": {"domain": ["early", "late"], "range": ["#ED7D31", "#002060"]}, "legend": null}
                 }},
                {"data": {"values": [{}]}, "mark": {"type": "text", "text": "MS Katon-Karagai", "fontSize": 21, "color": "#404040", "align": "center", "baseline": "middle"},
                 "encoding": {"x": {"datum": 1966.6, "type": "quantitative"}, "y": {"datum": 985, "type": "quantitative"}}},
                {"data": {"values": [{}]}, "mark": {"type": "text", "text": "y = -0,4754x + 1394,7", "fontSize": 18, "color": "#FF0000", "align": "center", "baseline": "middle"},
                 "encoding": {"x": {"datum": 1949.3, "type": "quantitative"}, "y": {"datum": 859, "type": "quantitative"}}},
                {"data": {"values": [{}]}, "mark": {"type": "text", "text": "y = 1,7386x - 3036,5", "fontSize": 18, "color": "#1F3864", "align": "center", "baseline": "middle"},
                 "encoding": {"x": {"datum": 1995.7, "type": "quantitative"}, "y": {"datum": 773, "type": "quantitative"}}}
              ]
            }
          ],
          "spacing": 37, "bounds": "flush"
        }
      ]
    }
  ]
}
